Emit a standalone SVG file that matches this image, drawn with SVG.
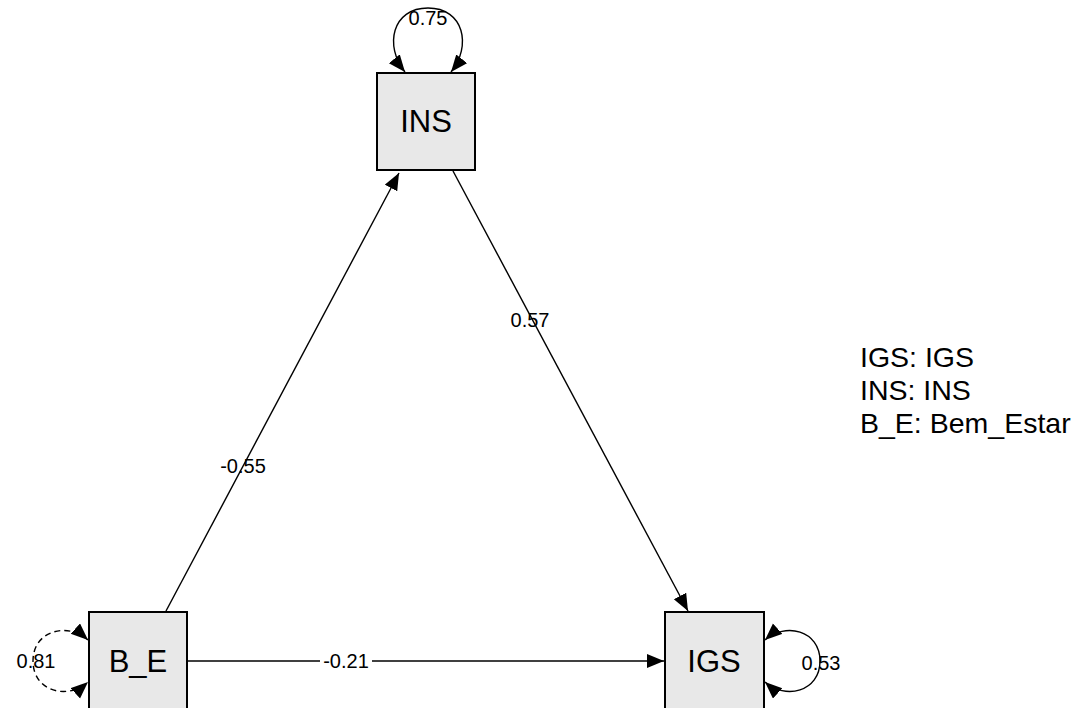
<svg xmlns="http://www.w3.org/2000/svg" width="1080" height="708" viewBox="0 0 1080 708">
<style>
.box{fill:#e8e8e8;stroke:#000;stroke-width:2}
.nl{font-family:"Liberation Sans",Arial,sans-serif;font-size:31px;fill:#000;text-anchor:middle}
.el{font-family:"Liberation Sans",Arial,sans-serif;font-size:20px;fill:#000;text-anchor:middle}
.lg{font-family:"Liberation Sans",Arial,sans-serif;font-size:28.5px;fill:#000}
.c{fill:none;stroke:#000;stroke-width:1.4}
.d{stroke-dasharray:6 4}
</style>
<defs>
<marker id="ah" markerUnits="userSpaceOnUse" markerWidth="19" markerHeight="15" refX="17" refY="7" orient="auto-start-reverse" viewBox="0 0 19 15">
<path d="M0 0 L17 7 L0 14 Z" fill="#000"/>
</marker>
</defs>
<rect width="1080" height="708" fill="#fff"/>
<g id="connectors">
<line class="c" x1="166" y1="611" x2="399" y2="173" marker-end="url(#ah)"/>
<line class="c" x1="453" y1="171" x2="688" y2="611" marker-end="url(#ah)"/>
<line class="c" x1="187" y1="661" x2="664" y2="661" marker-end="url(#ah)"/>
<path class="c" d="M405 72 C384 46 392 8 428 8 C464 8 472 46 451 72" marker-start="url(#ah)" marker-end="url(#ah)"/>
<path class="c d" d="M88 640 C68 622 33 630 33 661 C33 692 68 700 88 682" marker-start="url(#ah)" marker-end="url(#ah)"/>
<path class="c" d="M765 640 C785 622 820 630 820 661 C820 692 785 700 765 682" marker-start="url(#ah)" marker-end="url(#ah)"/>
<text class="el" x="428" y="25">0.75</text>
<text class="el" x="243" y="473">-0.55</text>
<text class="el" x="530" y="327">0.57</text>
<rect x="320" y="650" width="52" height="22" fill="#fff"/>
<text class="el" x="346" y="668">-0.21</text>
<text class="el" x="36" y="668">0.81</text>
<text class="el" x="821" y="670">0.53</text>
</g>
<g id="INS">
<rect class="box" x="377" y="73" width="98" height="97"/>
<text class="nl" x="426" y="132">INS</text>
</g>
<g id="B_E">
<rect class="box" x="89" y="612" width="98" height="100"/>
<text class="nl" x="138" y="672">B_E</text>
</g>
<g id="IGS">
<rect class="box" x="665" y="612" width="99" height="100"/>
<text class="nl" x="714" y="672">IGS</text>
</g>
<g id="legend">
<text class="lg" x="860" y="367">IGS: IGS</text>
<text class="lg" x="860" y="400">INS: INS</text>
<text class="lg" x="860" y="433">B_E: Bem_Estar</text>
</g>
</svg>
